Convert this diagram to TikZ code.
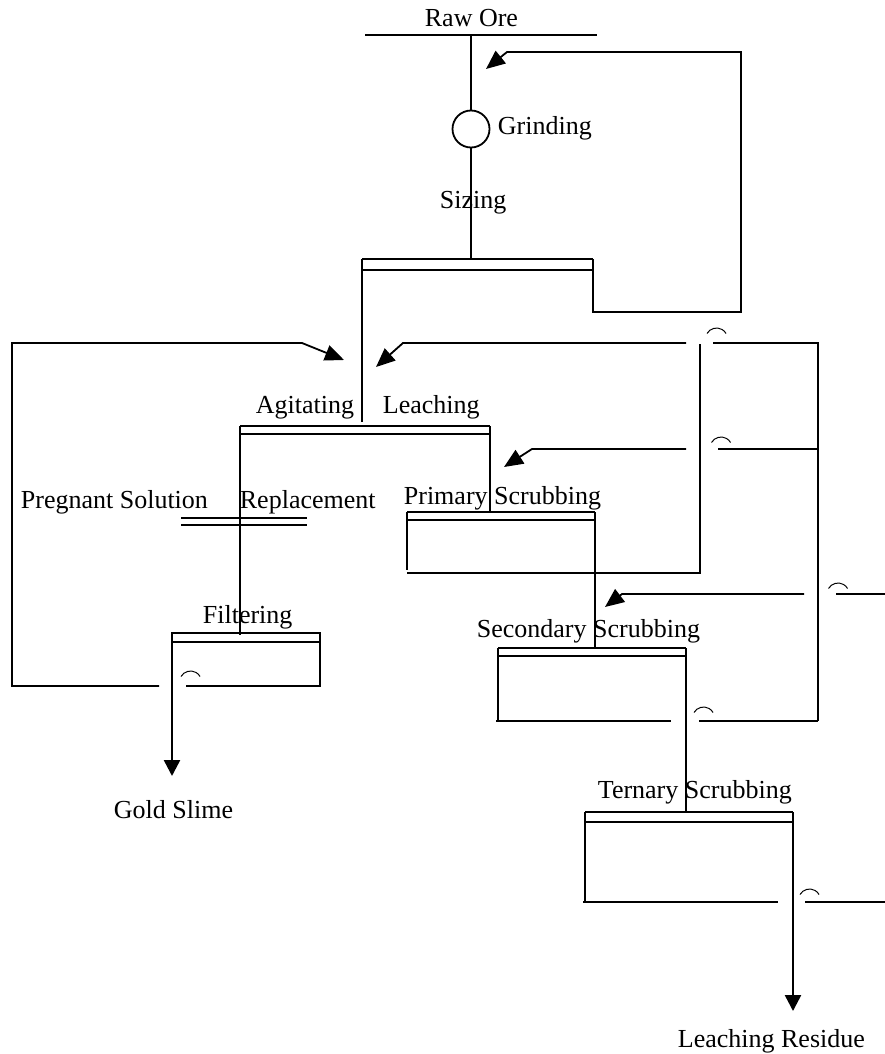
\documentclass[tikz,border=0pt]{standalone}
\usepackage{fontspec}
\setmainfont{Liberation Serif}
\usetikzlibrary{arrows.meta}
\begin{document}
\begin{tikzpicture}[x=1pt,y=-1pt,line width=1.8pt,
  lbl/.style={anchor=base west,inner sep=0pt,font=\fontsize{26}{30}\selectfont},
  fb/.style={-{Triangle[length=19pt,width=16pt]}},
  outflow/.style={line width=2.5pt,-{Triangle[length=16pt,width=16pt]}},
  jump/.style={line width=1pt},
  feedline/.style={line width=2pt}]
\useasboundingbox[fill=white] (0,0) rectangle (885,1054);
% labels
\node[lbl] (raw) at (424,27) {Raw Ore};
\node[lbl] (grindl) at (497,135) {Grinding};
\node[lbl] (sizing) at (439,208) {Sizing};
\node[lbl] (agit) at (255,413) {Agitating};
\node[lbl] (leach) at (382,413) {Leaching};
\node[lbl] (preg) at (20,508) {Pregnant Solution};
\node[lbl] (repl) at (239,508) {Replacement};
\node[lbl] (prim) at (403,504) {Primary Scrubbing};
\node[lbl] (filt) at (202,623) {Filtering};
\node[lbl] (sec) at (476,637) {Secondary Scrubbing};
\node[lbl] (ter) at (597,798) {Ternary Scrubbing};
\node[lbl] (gold) at (113,818) {Gold Slime};
\node[lbl] (resid) at (677,1047) {Leaching Residue};
% grinding mill
\node[draw,circle,minimum size=37pt,inner sep=0pt] (grind) at (471,129) {};
\coordinate (feed) at (471,35);
\coordinate (sizetop) at (471,259);
% raw ore feed
\draw[feedline] (365,35) -- (597,35);
\draw (feed) -- (grind.north);
\draw (grind.south) -- (sizetop);
% sizing
\draw (362,259) -- (593,259) (362,270) -- (593,270);
\draw (362,259) -- (362,422);
\draw[fb] (593,259) -- (593,312) -- (741,312) -- (741,52) -- (507,52) -- (486,69);
% agitating leaching
\draw (240,426) -- (490,426) (240,434) -- (490,434);
\draw (240,426) -- (240,635);
\draw (490,426) -- (490,512);
% replacement
\draw (181,518) -- (307,518) (181,525) -- (307,525);
% primary scrubbing
\draw (407,512) -- (595,512) (407,520) -- (595,520);
\draw (407,512) -- (407,570);
\draw (407,573) -- (700,573) -- (700,344);
\draw (595,512) -- (595,648);
% feedback loops right
\draw (818,721) -- (818,343) -- (713,343);
\draw[fb] (686,343) -- (403,343) -- (376,367);
\draw (818,449) -- (718,449);
\draw[fb] (686,449) -- (532,449) -- (504,467);
\draw (885,594) -- (836,594);
\draw[fb] (804,594) -- (622,594) -- (605,607);
% filtering
\draw (172,633) -- (320,633) (172,642) -- (320,642);
\draw (320,632) -- (320,686) -- (186,686);
\draw[fb] (159,686) -- (12,686) -- (12,343) -- (302,343) -- (344,360);
\draw[outflow] (172,632) -- (172,776);
% secondary scrubbing
\draw (498,648) -- (686,648) (498,656) -- (686,656);
\draw (498,648) -- (498,721);
\draw (496,721) -- (671,721) (699,721) -- (818,721);
\draw (686,648) -- (686,812);
% ternary scrubbing
\draw (585,812) -- (793,812) (585,822) -- (793,822);
\draw (585,812) -- (585,902);
\draw (583,902) -- (778,902) (805,902) -- (885,902);
\draw[outflow] (793,812) -- (793,1011);
% line jumps
\foreach \cx/\ty in {190.5/671,716.5/328,721/437,838/583,703.5/707,809.5/889}{
  \draw[jump] (\cx-9.5,\ty+5.5) arc[start angle=210,end angle=330,radius=11];
}
\end{tikzpicture}
\end{document}
